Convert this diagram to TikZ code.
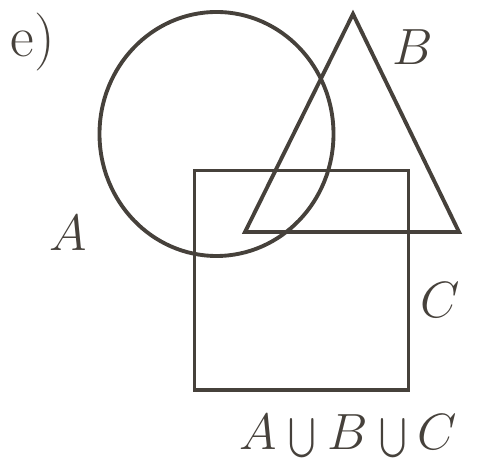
\documentclass[tikz,border=0pt]{standalone}
\usepackage{fix-cm}
\usepackage{amsmath}
\definecolor{inkGray}{HTML}{46413B}

\begin{document}
\begin{tikzpicture}[color=inkGray, line width=2.2pt, line join=miter,
    setlabel/.style={inner sep=0pt, font=\fontsize{29}{34}\selectfont}]

    \useasboundingbox (0,0) rectangle (9.66,9.24);

    % set A: the circle
    \draw (4.33,6.56) ellipse [x radius=2.34, y radius=2.44];

    % set B: the triangle
    \draw (7.06,8.96) -- (4.90,4.60) -- (9.18,4.60) -- cycle;

    % set C: the square
    \draw (3.89,1.44) rectangle (8.17,5.83);

    \node[setlabel, font=\fontsize{33}{38}\selectfont] (part) at (0.66,8.40) {e)};
    \node[setlabel] (labA) at (1.36,4.58) {$A$};
    \node[setlabel] (labB) at (8.26,8.30) {$B$};
    \node[setlabel] (labC) at (8.80,3.24) {$C$};
    \node[setlabel, anchor=base] (union) at (6.97,0.24)
        {$A\mathbin{\scalebox{0.75}[0.9]{$\bigcup$}}B\mathbin{\scalebox{0.75}[0.9]{$\bigcup$}}C$};

\end{tikzpicture}
\end{document}
